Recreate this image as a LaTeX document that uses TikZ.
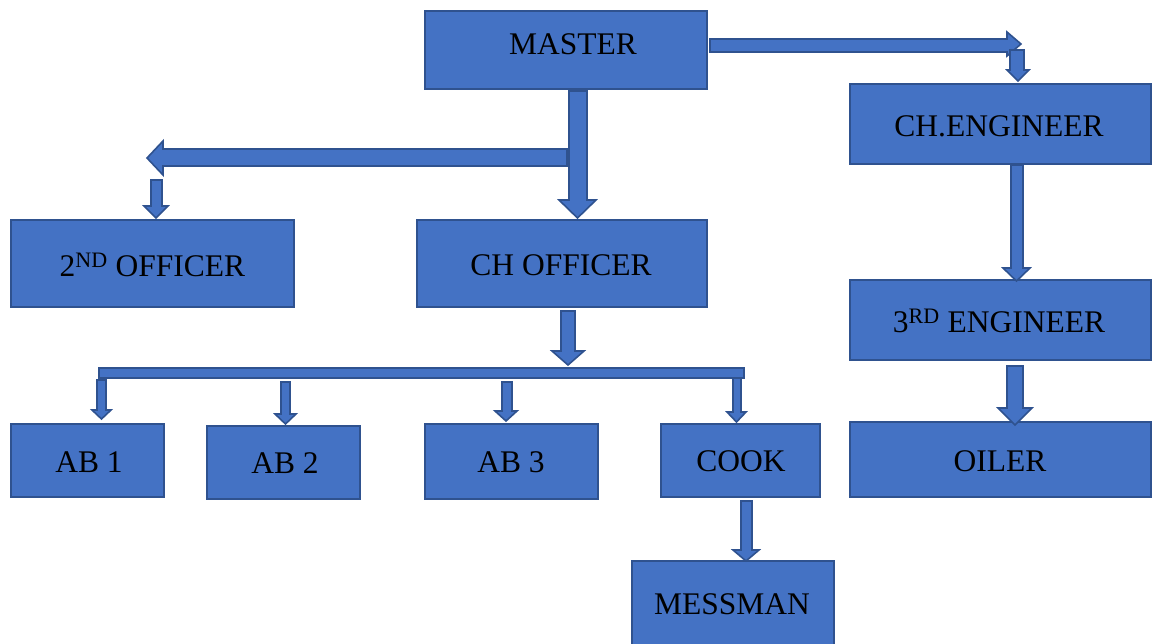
\documentclass[tikz,border=0pt]{standalone}
\usepackage{fontspec}
\setmainfont{Liberation Serif}
\definecolor{bfill}{HTML}{4472C4}
\definecolor{bline}{HTML}{2F528F}
\tikzset{
  box/.style={draw=bline, fill=bfill, line width=1.8pt, rectangle, inner sep=0pt},
  lbl/.style={inner sep=0pt, text height=20.9pt, text depth=0pt, font=\fontsize{31.5pt}{36pt}\selectfont, text=black},
  blk/.style={draw=bline, fill=bfill, line width=1.6pt, line join=miter}
}
\newcommand\blkdown[7]{%
  \filldraw[blk] (#1,#5) -- (#2,#5) -- (#2,#6) -- (#4,#6) -- ({(#3+#4)/2},#7) -- (#3,#6) -- (#1,#6) -- cycle;}
\begin{document}
\begin{tikzpicture}[x=1pt,y=-1pt]
\useasboundingbox (0,0) rectangle (1152,643);
% boxes
\node[box, minimum width=282pt, minimum height=78pt] (master) at (566,50) {};
\node[box, minimum width=301pt, minimum height=80pt] (cheng) at (1000.5,124) {};
\node[box, minimum width=283pt, minimum height=87pt] (off2) at (152.5,263.5) {};
\node[box, minimum width=290pt, minimum height=87pt] (choff) at (562,263.5) {};
\node[box, minimum width=301pt, minimum height=80pt] (eng3) at (1000.5,320) {};
\node[box, minimum width=153pt, minimum height=73pt] (ab1) at (87.5,460.5) {};
\node[box, minimum width=153pt, minimum height=73pt] (ab2) at (283.5,462.5) {};
\node[box, minimum width=173pt, minimum height=75pt] (ab3) at (511.5,461.5) {};
\node[box, minimum width=159pt, minimum height=73pt] (cook) at (740.5,460.5) {};
\node[box, minimum width=301pt, minimum height=75pt] (oiler) at (1000.5,459.5) {};
\node[box, minimum width=202pt, minimum height=84pt] (messman) at (733,603) {};
% labels
\node[lbl] (masterT) at (573,44) {MASTER};
\node[lbl] (chengT) at (999,126) {CH.ENGINEER};
\node[lbl] (off2T) at (152.5,266) {2\textsuperscript{ND} OFFICER};
\node[lbl] (choffT) at (561,265) {CH OFFICER};
\node[lbl] (eng3T) at (999,322) {3\textsuperscript{RD} ENGINEER};
\node[lbl] (ab1T) at (89,462) {AB 1};
\node[lbl] (ab2T) at (285,463) {AB 2};
\node[lbl] (ab3T) at (511,462) {AB 3};
\node[lbl] (cookT) at (741,461) {COOK};
\node[lbl] (oilerT) at (1000,461) {OILER};
\node[lbl] (messmanT) at (732,604) {MESSMAN};
% horizontal block arrows
\filldraw[blk] (567,149) -- (567,166) -- (163,166) -- (163,175) -- (147,158) -- (163,141) -- (163,149) -- cycle;
\filldraw[blk] (710,39) -- (1007,39) -- (1007,32) -- (1021,44) -- (1007,56) -- (1007,52) -- (710,52) -- cycle;
% bar
\filldraw[blk] (99,368) rectangle (744,378);
% vertical block arrows
\blkdown{569}{587}{559}{596}{91}{200}{218}
\blkdown{151}{162}{144}{168}{180}{206}{218}
\blkdown{1010}{1024}{1007}{1029}{50}{70}{81}
\blkdown{1011}{1023}{1003}{1030}{165}{268}{281}
\blkdown{1007}{1023}{998}{1032}{366}{408}{425}
\blkdown{561}{575}{552}{584}{311}{351}{365}
\blkdown{97}{106}{92}{111}{380}{410}{419}
\blkdown{281}{290}{275}{296}{382}{414}{424}
\blkdown{502}{512}{495}{517}{382}{411}{421}
\blkdown{733}{741}{727}{746}{378}{412}{422}
\blkdown{741}{752}{733}{759}{501}{550}{561}
\end{tikzpicture}
\end{document}
